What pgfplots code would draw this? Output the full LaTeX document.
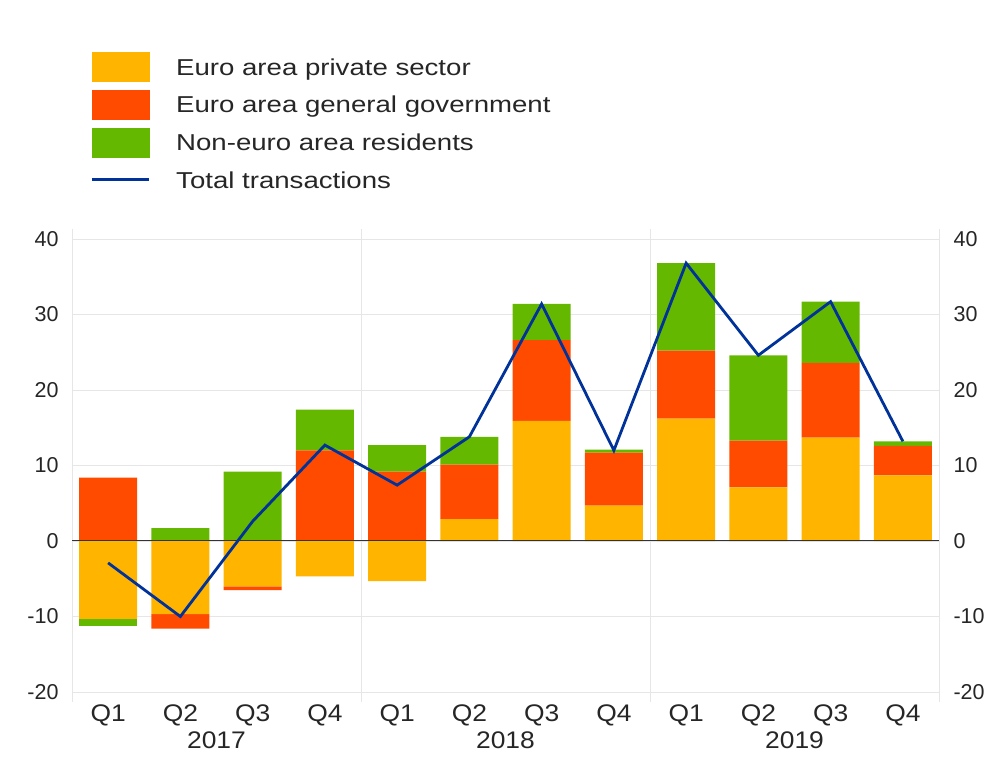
\documentclass[border=0pt]{standalone}
\usepackage{pgfplots}
\pgfplotsset{compat=1.18}
\usepackage{pgfplotstable}
\usepackage{fontspec}
\setmainfont{Liberation Sans}
\newfontfamily\legfont[FakeStretch=1.2]{Liberation Sans}
\newfontfamily\xfont[FakeStretch=1.1]{Liberation Sans}
\definecolor{cyel}{HTML}{FFB400}
\definecolor{cred}{HTML}{FF4B00}
\definecolor{cgrn}{HTML}{65B800}
\definecolor{cblu}{HTML}{003299}
\definecolor{cgrid}{HTML}{E6E6E6}

% positive parts: x, private, government, non-euro
\pgfplotstableread{
x  y     r     g
0  0     8.4   0
1  0     0     1.7
2  0     0     9.2
3  0     12.0  5.4
4  0     9.2   3.5
5  2.9   7.2   3.7
6  15.9  10.7  4.8
7  4.7   7.0   0.4
8  16.2  9.0   11.6
9  7.1   6.2   11.3
10 13.7  9.9   8.1
11 8.7   3.9   0.6
}\pos
% negative parts
\pgfplotstableread{
x  y     r     g
0  -10.3 0     -0.9
1  -9.7  -1.9  0
2  -6.0  -0.5  0
3  -4.7  0     0
4  -5.3  0     0
5  0     0     0
6  0     0     0
7  0     0     0
8  0     0     0
9  0     0     0
10 0     0     0
11 0     0     0
}\neg
\pgfplotstableread{
x  t
0  -2.9
1  -10.0
2  2.6
3  12.7
4  7.4
5  13.8
6  31.4
7  12.0
8  36.8
9  24.6
10 31.7
11 13.2
}\tot

\pgfplotsset{base/.style={
  scale only axis, width=867pt, height=453pt,
  xmin=-0.5, xmax=11.5, ymin=-20, ymax=40,
  axis line style={draw=cgrid},
  yticklabel style={font=\fontsize{21.5}{24}\selectfont, text=black!85},
  xticklabel style={font=\xfont\fontsize{24}{27}\selectfont, text=black!85},
  /pgf/number format/assume math mode=true,
  major tick length=0pt,
  ytick={-20,-10,...,40},
}}

\begin{document}
\begin{tikzpicture}
\begin{axis}[base, name=main,
  ybar stacked, bar width=0.8,
  ymajorgrids, major grid style={draw=cgrid},
  yticklabel style={xshift=-10pt},
  xtick={0,...,11},
  xticklabels={Q1,Q2,Q3,Q4,Q1,Q2,Q3,Q4,Q1,Q2,Q3,Q4},
  xticklabel style={yshift=-9pt},
  extra x ticks={-0.5,3.5,7.5,11.5}, extra x tick labels={},
  extra x tick style={grid=major, major tick length=10pt, tick align=outside, tick style={draw=cgrid}},
]
\addplot[fill=cyel, draw=none] table[x=x, y=y] {\pos};
\addplot[fill=cred, draw=none] table[x=x, y=r] {\pos};
\addplot[fill=cgrn, draw=none] table[x=x, y=g] {\pos};
\end{axis}
\begin{axis}[base, hide axis, ybar stacked, bar width=0.8]
\addplot[fill=cyel, draw=none] table[x=x, y=y] {\neg};
\addplot[fill=cred, draw=none] table[x=x, y=r] {\neg};
\addplot[fill=cgrn, draw=none] table[x=x, y=g] {\neg};
\end{axis}
\begin{axis}[base,
  yticklabel pos=right,
  yticklabel style={xshift=11pt},
  xtick={1.5,5.5,9.5}, xticklabels={2017,2018,2019},
  xticklabel style={yshift=-36pt},
  legend style={at={(axis description cs:0.021,1.413)}, anchor=north west,
    draw=none, fill=none, font=\legfont\fontsize{23}{26}\selectfont, text=black!85,
    row sep=7.7pt, column sep=24pt, inner sep=0pt,
    cells={anchor=base west},
    nodes={inner sep=2pt, text height=17pt, text depth=5pt}},
]
\addlegendimage{legend image code/.code={\fill[cyel] (0pt,-6.2pt) rectangle (57pt,22.8pt);}}
\addlegendentry{Euro area private sector}
\addlegendimage{legend image code/.code={\fill[cred] (0pt,-6.2pt) rectangle (57pt,22.8pt);}}
\addlegendentry{Euro area general government}
\addlegendimage{legend image code/.code={\fill[cgrn] (0pt,-6.2pt) rectangle (57pt,22.8pt);}}
\addlegendentry{Non-euro area residents}
\addplot[black!80, line width=1pt, forget plot] coordinates {(-0.5,0) (11.5,0)};
\addplot[cblu, line width=2.8pt,
  legend image code/.code={\path[draw=none, fill=none] (0pt,-6.2pt) rectangle (57pt,22.8pt);
    \draw[cblu, line width=2.8pt] (0pt,8.3pt) -- (57pt,8.3pt);}]
  table[x=x, y=t] {\tot};
\addlegendentry{Total transactions}
\end{axis}
\pgfresetboundingbox
\useasboundingbox (main.south west) ++(-72pt,-70pt) rectangle ++(984pt,762pt);
\end{tikzpicture}
\end{document}
